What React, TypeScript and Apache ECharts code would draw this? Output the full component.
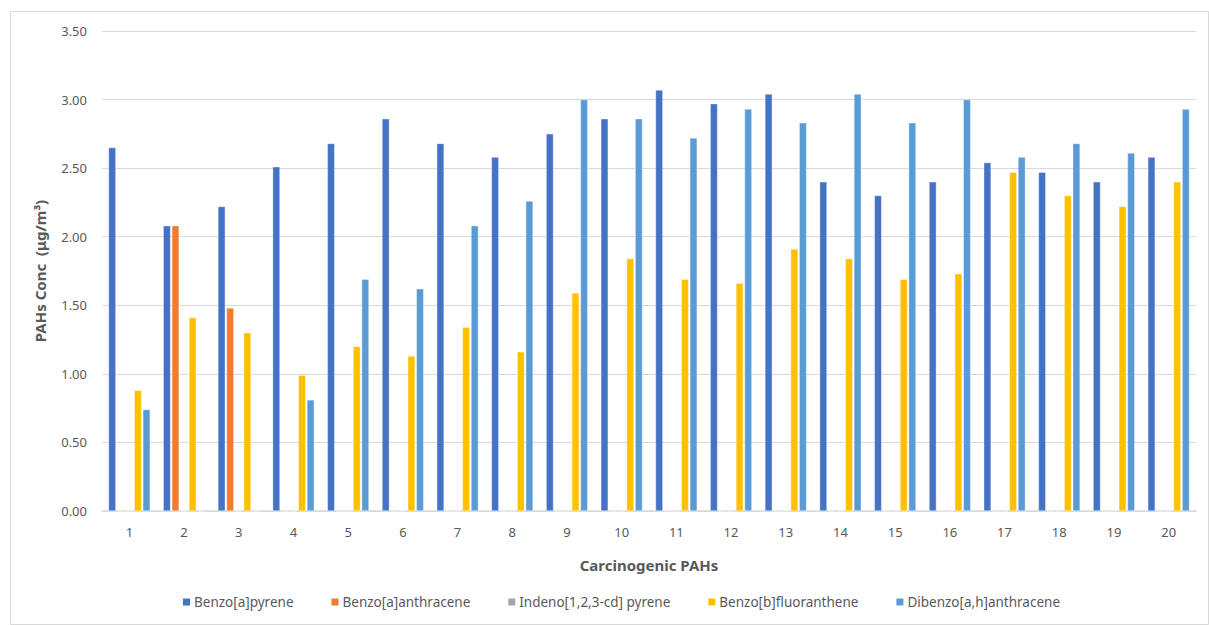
import React, { useEffect, useRef } from "react";
import * as echarts from "echarts";

const categories = ["1","2","3","4","5","6","7","8","9","10","11","12","13","14","15","16","17","18","19","20"];

const benzoAPyrene = [2.65, 2.08, 2.22, 2.51, 2.68, 2.86, 2.68, 2.58, 2.75, 2.86, 3.07, 2.97, 3.04, 2.40, 2.30, 2.40, 2.54, 2.47, 2.40, 2.58];
const benzoAAnthracene = [0, 2.08, 1.48, 0, 0, 0, 0, 0, 0, 0, 0, 0, 0, 0, 0, 0, 0, 0, 0, 0];
const indenoPyrene = [0, 0, 0, 0, 0, 0, 0, 0, 0, 0, 0, 0, 0, 0, 0, 0, 0, 0, 0, 0];
const benzoBFluoranthene = [0.88, 1.41, 1.30, 0.99, 1.20, 1.13, 1.34, 1.16, 1.59, 1.84, 1.69, 1.66, 1.91, 1.84, 1.69, 1.73, 2.47, 2.30, 2.22, 2.40];
const dibenzoAnthracene = [0.74, 0, 0, 0.81, 1.69, 1.62, 2.08, 2.26, 3.00, 2.86, 2.72, 2.93, 2.83, 3.04, 2.83, 3.00, 2.58, 2.68, 2.61, 2.93];

const seriesNames = [
  "Benzo[a]pyrene",
  "Benzo[a]anthracene",
  "Indeno[1,2,3-cd] pyrene",
  "Benzo[b]fluoranthene",
  "Dibenzo[a,h]anthracene",
];
const seriesData = [benzoAPyrene, benzoAAnthracene, indenoPyrene, benzoBFluoranthene, dibenzoAnthracene];
const seriesColors = ["#4472C4", "#ED7D31", "#A5A5A5", "#FFC000", "#5B9BD5"];

const FONT = "'Noto Sans', 'Open Sans', sans-serif";
const TEXT = "#595959";

export default function App() {
  const ref = useRef<HTMLDivElement>(null);

  useEffect(() => {
    if (!ref.current) return;
    const chart = echarts.init(ref.current, undefined, { renderer: "svg" });
    chart.setOption({
      animation: false,
      backgroundColor: "#ffffff",
      textStyle: { fontFamily: FONT },
      graphic: [
        {
          type: "rect",
          shape: { x: 10.5, y: 11.5, width: 1198, height: 613 },
          style: { fill: "none", stroke: "#d9d9d9", lineWidth: 1 },
          silent: true,
          z: -1,
        },
      ],
      grid: { left: 102, right: 13, top: 31, bottom: 114, containLabel: false },
      legend: {
        bottom: 11,
        left: 176,
        itemWidth: 9,
        itemHeight: 9,
        itemGap: 36,
        icon: "rect",
        textStyle: { color: TEXT, fontSize: 13.5, fontFamily: FONT, padding: [0, 0, 0, -2] },
        data: seriesNames,
      },
      xAxis: {
        type: "category",
        data: categories,
        name: "Carcinogenic PAHs",
        nameLocation: "middle",
        nameGap: 46,
        nameTextStyle: { color: TEXT, fontSize: 15, fontWeight: "bold", fontFamily: FONT },
        axisLine: { lineStyle: { color: "#d9d9d9", width: 1.5 } },
        axisTick: { show: false },
        axisLabel: { color: TEXT, fontSize: 13, margin: 14, fontFamily: FONT },
      },
      yAxis: {
        type: "value",
        min: 0,
        max: 3.5,
        interval: 0.5,
        name: "PAHs Conc  (μg/m³)",
        nameLocation: "middle",
        nameGap: 55,
        nameTextStyle: { color: TEXT, fontSize: 15, fontWeight: "bold", fontFamily: FONT },
        axisLine: { show: false },
        axisTick: { show: false },
        splitLine: { lineStyle: { color: "#d9d9d9", width: 1 } },
        axisLabel: {
          color: TEXT,
          fontSize: 13,
          margin: 15,
          fontFamily: FONT,
          formatter: (v: number) => v.toFixed(2),
        },
      },
      series: seriesNames.map((name, i) => ({
        name,
        type: "bar",
        data: seriesData[i],
        barGap: "18%",
        barCategoryGap: "24%",
        itemStyle: { color: seriesColors[i], borderColor: "#ffffff", borderWidth: 0.4 },
      })),
    });
    return () => chart.dispose();
  }, []);

  return (
    <div
      ref={ref}
      style={{ position: "fixed", left: 0, top: 0, width: 1209, height: 625, background: "#fff" }}
    />
  );
}
